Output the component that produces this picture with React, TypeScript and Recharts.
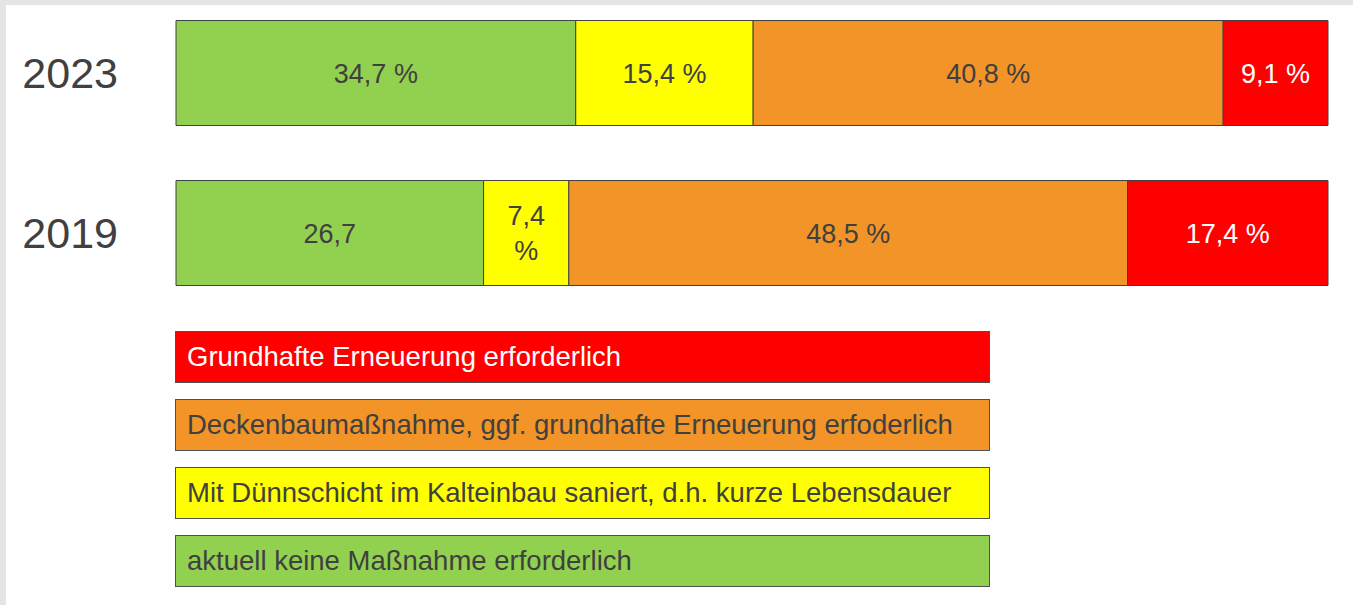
import React from 'react';
import { BarChart, Bar, XAxis, YAxis, Legend, LabelList } from 'recharts';

const years = ['2023', '2019'];
const greenValues = [34.7, 26.7];
const yellowValues = [15.4, 7.4];
const orangeValues = [40.8, 48.5];
const redValues = [9.1, 17.4];
const greenLabels = ['34,7 %', '26,7'];
const yellowLabels = ['15,4 %', '7,4 %'];
const orangeLabels = ['40,8 %', '48,5 %'];
const redLabels = ['9,1 %', '17,4 %'];
const seriesNames = [
  'aktuell keine Maßnahme erforderlich',
  'Mit Dünnschicht im Kalteinbau saniert, d.h. kurze Lebensdauer',
  'Deckenbaumaßnahme, ggf. grundhafte Erneuerung erfoderlich',
  'Grundhafte Erneuerung erforderlich',
];

const data = years.map((year, i) => ({
  year,
  green: greenValues[i],
  yellow: yellowValues[i],
  orange: orangeValues[i],
  red: redValues[i],
}));

const FONT = '"Liberation Sans", Arial, sans-serif';
const DARK = '#404040';
const LABEL_FS = 27;

const makeLabel = (labels: string[], color: string) => (props: any) => {
  const { x, y, width, height, index } = props;
  const text = labels[index];
  if (!text) return null;
  const cx = Number(x) + Number(width) / 2;
  const cy = Number(y) + Number(height) / 2;
  const approx = text.length * 0.55 * LABEL_FS;
  if (approx + 24 > Number(width) && text.includes(' ')) {
    const parts = text.split(' ');
    const lh = 35.5;
    const start = cy - ((parts.length - 1) * lh) / 2;
    return (
      <text textAnchor="middle" fill={color} fontSize={LABEL_FS} fontFamily={FONT}>
        {parts.map((p, k) => (
          <tspan key={k} x={cx} y={start + k * lh + LABEL_FS * 0.355}>
            {p}
          </tspan>
        ))}
      </text>
    );
  }
  return (
    <text x={cx} y={cy + LABEL_FS * 0.355} textAnchor="middle" fill={color} fontSize={LABEL_FS} fontFamily={FONT}>
      {text}
    </text>
  );
};

const LegendContent = (props: any) => {
  const payload = [...(props.payload || [])].sort(
    (a: any, b: any) => seriesNames.indexOf(b.value) - seriesNames.indexOf(a.value)
  );
  return (
    <div style={{ width: 815 }}>
      {payload.map((entry: any, i: number) => (
        <div
          key={i}
          style={{
            boxSizing: 'border-box',
            height: 52,
            marginBottom: 16,
            background: entry.color,
            border: '1px solid #505050',
            display: 'flex',
            alignItems: 'center',
            paddingLeft: 11,
            fontFamily: FONT,
            fontSize: 27.5,
            color: entry.color === '#ff0000' ? '#ffffff' : DARK,
            whiteSpace: 'nowrap',
          }}
        >
          {entry.value}
        </div>
      ))}
    </div>
  );
};

export default function App() {
  return (
    <div style={{ position: 'absolute', top: 0, left: 0, width: 1353, height: 605, background: '#e5e5e5', overflow: 'hidden' }}>
      <div style={{ position: 'absolute', top: 5, left: 6, width: 1347, height: 600, background: '#ffffff' }} />
      <div style={{ position: 'absolute', top: 0, left: 0 }}>
        <BarChart
          width={1353}
          height={605}
          data={data}
          layout="vertical"
          margin={{ top: -7.5, right: 25, bottom: 292.5, left: 0 }}
        >
          <XAxis type="number" domain={[0, 100]} hide />
          <YAxis
            type="category"
            dataKey="year"
            width={176}
            axisLine={false}
            tickLine={false}
            tickSize={0}
            tickMargin={58}
            tick={{ fill: DARK, fontSize: 43, fontFamily: FONT }}
          />
          <Legend
            layout="horizontal"
            verticalAlign="middle"
            align="center"
            wrapperStyle={{ top: 331, left: 175, width: 815 }}
            content={<LegendContent />}
          />
          <Bar dataKey="green" name={seriesNames[0]} stackId="a" fill="#92d050" stroke={DARK} strokeWidth={1} barSize={105} isAnimationActive={false}>
            <LabelList dataKey="green" content={makeLabel(greenLabels, DARK)} />
          </Bar>
          <Bar dataKey="yellow" name={seriesNames[1]} stackId="a" fill="#ffff00" stroke={DARK} strokeWidth={1} barSize={105} isAnimationActive={false}>
            <LabelList dataKey="yellow" content={makeLabel(yellowLabels, DARK)} />
          </Bar>
          <Bar dataKey="orange" name={seriesNames[2]} stackId="a" fill="#f29427" stroke={DARK} strokeWidth={1} barSize={105} isAnimationActive={false}>
            <LabelList dataKey="orange" content={makeLabel(orangeLabels, DARK)} />
          </Bar>
          <Bar dataKey="red" name={seriesNames[3]} stackId="a" fill="#ff0000" stroke={DARK} strokeWidth={1} barSize={105} isAnimationActive={false}>
            <LabelList dataKey="red" content={makeLabel(redLabels, '#ffffff')} />
          </Bar>
        </BarChart>
      </div>
    </div>
  );
}
